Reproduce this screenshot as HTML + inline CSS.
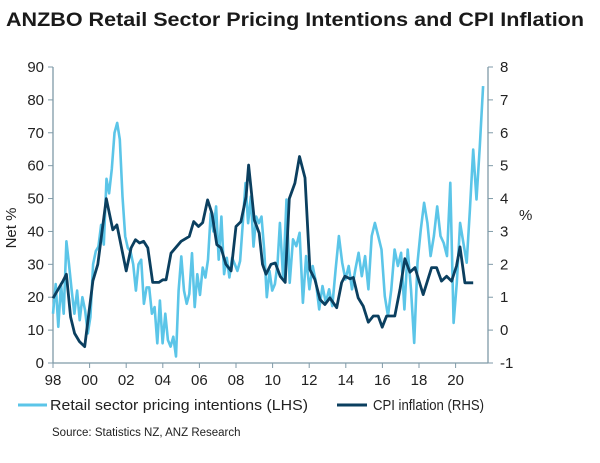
<!DOCTYPE html>
<html><head><meta charset="utf-8">
<style>
body{margin:0;background:#fff;}
svg{display:block;font-family:"Liberation Sans",sans-serif;}
</style></head>
<body>
<svg id="chart" width="600" height="463" viewBox="0 0 600 463">
<text x="6" y="26" font-size="19.5" font-weight="bold" fill="#1a1a1a" textLength="578" lengthAdjust="spacingAndGlyphs">ANZBO Retail Sector Pricing Intentions and CPI Inflation</text>
<g id="axes"></g>
<g id="series"></g>
<text transform="translate(16,228) rotate(-90)" text-anchor="middle" font-size="15" fill="#222">Net %</text>
<text x="519" y="220" font-size="15" fill="#222">%</text>
<g>
<line x1="18" y1="405" x2="47" y2="405" stroke="#5bc5e8" stroke-width="3"/>
<text x="50" y="410" font-size="14.5" fill="#222" textLength="258" lengthAdjust="spacingAndGlyphs">Retail sector pricing intentions (LHS)</text>
<line x1="337" y1="405" x2="367" y2="405" stroke="#0b3f5f" stroke-width="3"/>
<text x="373" y="410" font-size="14.5" fill="#222" textLength="111" lengthAdjust="spacingAndGlyphs">CPI inflation (RHS)</text>
</g>
<text x="52" y="436" font-size="11.5" fill="#222">Source: Statistics NZ, ANZ Research</text>
</svg>
<script>
const leftTicks=[0,10,20,30,40,50,60,70,80,90];
const rightTicks=[-1,0,1,2,3,4,5,6,7,8];
const xTickLabels=["98","00","02","04","06","08","10","12","14","16","18","20"];
const xTickYears=[1998,2000,2002,2004,2006,2008,2010,2012,2014,2016,2018,2020];
const retailStartA=1998.0, retailEndA=2010.27;
const retailValuesA=[15,24,11,24,15,37,30,22,15,22,13,20,16,9,14,30,34,35.4,42,36,56,51.6,59,70,73,68,50.6,38.5,35,34,30,22,30,31.4,18,23,23,15,17,6,19,6,15,7,5,8,2,22,32.4,22,18,21,33.4,17,27,20.7,29,26,31.4,45.5,40,47.6,31.4,44.5,27,32,26,32,30,28,31,42.5,54.7,42.5,50.6,35.4,44.5,42.5,44.5,34.4,20,28,22,24,30];
const retailStartB=2010.4, retailEndB=2021.5;
const retailValuesB=[42.6,25.4,49.7,24.4,37.6,35.5,39.6,18.3,32.5,22.4,29.5,24.4,16.3,23.4,18.3,22.4,17.3,28.4,38.6,30.5,25.4,29.5,22.4,28.4,33.5,26.4,32.5,22.4,38.6,42.6,38.6,34.5,20.3,14.3,22.4,34.5,29.5,33.5,16.3,34.5,22.4,6.1,30.5,40.6,48.7,42.6,32.5,38.6,47.6,38.6,36.5,32.5,54.8,12.2,24.4,42.6,36.5,30.5,46.6,64.9,49.7,65.9,84.2];
const cpiYears=[1998.0,1998.55,1998.73,1998.96,1999.18,1999.45,1999.73,2000.18,2000.45,2000.91,2001.27,2001.49,2002.0,2002.27,2002.51,2002.73,2002.95,2003.18,2003.45,2003.78,2004.0,2004.18,2004.45,2005.0,2005.45,2005.69,2005.95,2006.18,2006.45,2006.69,2006.95,2007.18,2007.45,2007.73,2008.0,2008.27,2008.55,2008.69,2009.0,2009.27,2009.45,2009.64,2009.91,2010.15,2010.42,2010.69,2010.91,2011.22,2011.47,2011.77,2012.04,2012.31,2012.59,2012.86,2013.13,2013.5,2013.77,2013.95,2014.23,2014.41,2014.68,2014.95,2015.23,2015.5,2015.77,2015.99,2016.23,2016.68,2016.96,2017.23,2017.5,2017.78,2018.23,2018.69,2018.96,2019.23,2019.51,2019.78,2020.05,2020.24,2020.51,2020.96];
const cpiValues=[0.97,1.5,1.7,0.4,-0.1,-0.35,-0.5,1.5,2.0,4.0,3.05,3.2,1.8,2.5,2.75,2.65,2.7,2.5,1.45,1.45,1.53,1.53,2.34,2.7,2.85,3.3,3.15,3.27,3.96,3.55,2.6,2.5,2.0,1.8,3.15,3.3,4.06,5.02,3.35,2.95,2.0,1.7,2.0,2.04,1.63,1.45,4.0,4.47,5.28,4.63,1.84,1.54,0.93,0.78,0.98,0.68,1.44,1.64,1.56,1.6,0.98,0.73,0.24,0.43,0.43,0.09,0.43,0.43,1.24,2.17,1.76,1.9,1.08,1.9,1.9,1.49,1.64,1.49,1.95,2.53,1.44,1.44];

const NS="http://www.w3.org/2000/svg";
const X0=53, X1=488, yTop=67, yBot=363;
function xScale(yr){return X0+(yr-1998)*18.3;}
function yLeft(v){return yBot-(v/90)*(yBot-yTop);}
function yRight(v){return yBot-((v+1)/9)*(yBot-yTop);}
function mk(tag,attrs,parent){const e=document.createElementNS(NS,tag);for(const k in attrs)e.setAttribute(k,attrs[k]);parent.appendChild(e);return e;}
const axes=document.getElementById('axes'), series=document.getElementById('series');
const AX="#7f9aa8";
let l=mk('line',{x1:X0,y1:yTop,x2:X0,y2:yBot,stroke:AX,'stroke-width':1.3},axes);


l=mk('line',{x1:X1,y1:yTop,x2:X1,y2:yBot,stroke:AX,'stroke-width':1.3},axes);


l=mk('line',{x1:X0,y1:yBot,x2:X1,y2:yBot,stroke:AX,'stroke-width':1.3},axes);


leftTicks.forEach(v=>{const y=yLeft(v);
 const t=mk('line',{x1:X0-5,y1:y,x2:X0,y2:y,stroke:AX},axes);
 
 
 const tx=mk('text',{x:X0-9,y:y+5,'text-anchor':'end','font-size':15,fill:'#222'},axes);tx.textContent=v;
 
 });
rightTicks.forEach(v=>{const y=yRight(v);
 const t=mk('line',{x1:X1,y1:y,x2:X1+5,y2:y,stroke:AX},axes);
 
 
 const tx=mk('text',{x:X1+12,y:y+5,'font-size':15,fill:'#222'},axes);tx.textContent=v;
 
 });
xTickYears.forEach((yr,i)=>{const x=xScale(yr);
 const t=mk('line',{x1:x,y1:yBot,x2:x,y2:yBot+5,stroke:AX},axes);
 
 
 const tx=mk('text',{x:x,y:yBot+22,'text-anchor':'middle','font-size':15,fill:'#222'},axes);tx.textContent=xTickLabels[i];
 
 });
function seg(vals,s,e){const n=vals.length;return vals.map((v,i)=>xScale(s+i*(e-s)/(n-1)).toFixed(1)+','+yLeft(v).toFixed(1));}
const rPts=seg(retailValuesA,retailStartA,retailEndA).concat(seg(retailValuesB,retailStartB,retailEndB)).join(' ');
const rl=mk('polyline',{points:rPts,fill:'none',stroke:'#5bc5e8','stroke-width':2.6,'stroke-linejoin':'round'},series);


const cPts=cpiValues.map((v,i)=>xScale(cpiYears[i]).toFixed(1)+','+yRight(v).toFixed(1)).join(' ');
const cl=mk('polyline',{points:cPts,fill:'none',stroke:'#0b3f5f','stroke-width':2.8,'stroke-linejoin':'round'},series);


</script>
</body></html>
